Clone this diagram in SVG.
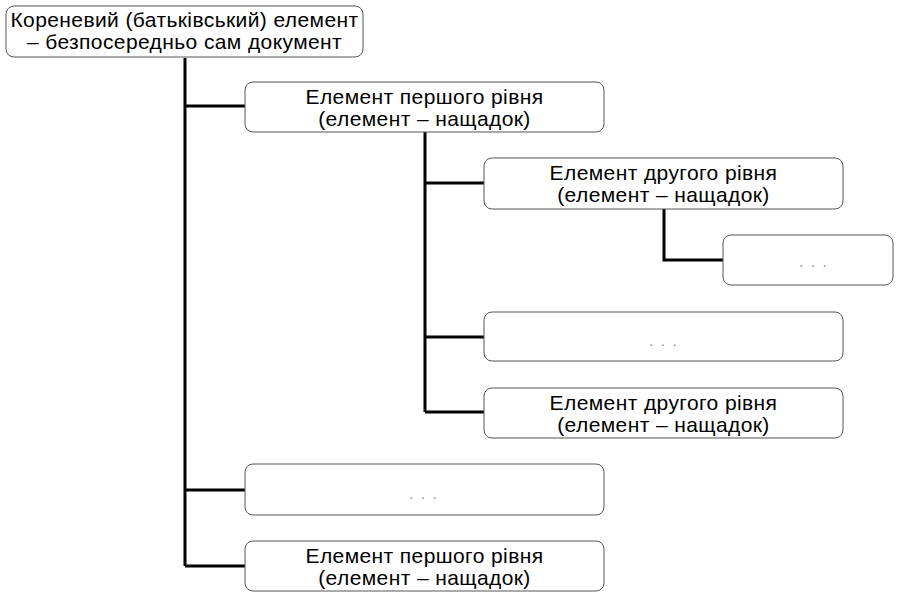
<svg xmlns="http://www.w3.org/2000/svg" width="899" height="599" viewBox="0 0 899 599">
<style>
.box{fill:#fff;stroke:#555;stroke-width:1}
.t{font-family:"Liberation Sans",Arial,sans-serif;font-size:21px;letter-spacing:0.4px;fill:#000;text-anchor:middle}
.d{font-family:"Liberation Sans",Arial,sans-serif;font-size:14px;fill:#888;text-anchor:middle;letter-spacing:2px}
.c{fill:none;stroke:#000;stroke-width:3}
</style>
<rect width="899" height="599" fill="#fff"/>
<g id="connectors">
<path class="c" d="M185 58V566M185 106H245M185 490H245M185 566H245"/>
<path class="c" d="M425 132V412M425 183H484M425 337H484M425 412H484"/>
<path class="c" d="M664 209V260H723"/>
</g>
<g id="root"><rect class="box" x="6" y="6" width="357" height="51" rx="8"/><text class="t" x="184.5" y="27">Кореневий (батьківський) елемент</text><text class="t" x="184.5" y="49">– безпосередньо сам документ</text></g>
<g id="l1a"><rect class="box" x="245" y="82" width="359" height="50" rx="8"/><text class="t" x="424.5" y="104">Елемент першого рівня</text><text class="t" x="424.5" y="126">(елемент – нащадок)</text></g>
<g id="l2a"><rect class="box" x="484" y="158" width="359" height="51" rx="8"/><text class="t" x="663.5" y="180">Елемент другого рівня</text><text class="t" x="663.5" y="202">(елемент – нащадок)</text></g>
<g id="l3"><rect class="box" x="723" y="235" width="170" height="50" rx="8"/><text class="d" x="814" y="267" xml:space="preserve">. . .</text></g>
<g id="l2dots"><rect class="box" x="484" y="312" width="359" height="49" rx="8"/><text class="d" x="664" y="346" xml:space="preserve">. . .</text></g>
<g id="l2b"><rect class="box" x="484" y="388" width="359" height="50" rx="8"/><text class="t" x="663.5" y="410">Елемент другого рівня</text><text class="t" x="663.5" y="432">(елемент – нащадок)</text></g>
<g id="l1dots"><rect class="box" x="245" y="464" width="359" height="51" rx="8"/><text class="d" x="424" y="499" xml:space="preserve">. . .</text></g>
<g id="l1b"><rect class="box" x="245" y="541" width="359" height="50" rx="8"/><text class="t" x="424.5" y="563">Елемент першого рівня</text><text class="t" x="424.5" y="585">(елемент – нащадок)</text></g>
</svg>
